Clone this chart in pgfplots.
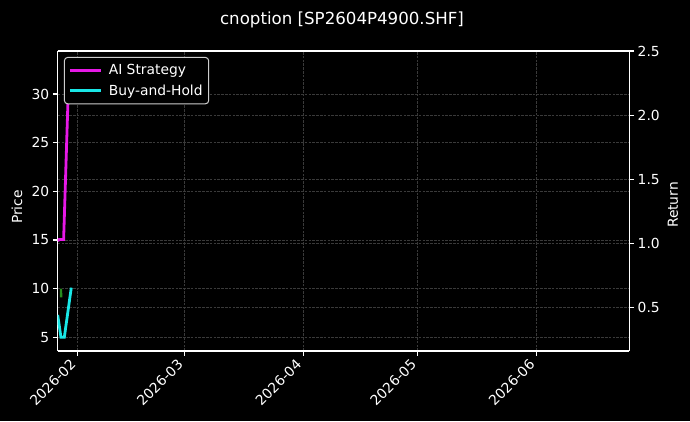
\documentclass[border=0pt]{standalone}
\usepackage{fontspec}
\setmainfont{DejaVu Sans}
\usepackage{pgfplots}
\pgfplotsset{compat=1.18}
\definecolor{aistrat}{RGB}{230,25,230}
\definecolor{bh}{RGB}{25,230,230}
\definecolor{pricegreen}{RGB}{40,140,30}
\definecolor{gridc}{RGB}{58,58,58}
\definecolor{legedge}{RGB}{205,205,205}
\pgfplotstableread{
x y
-5.15 14.90
-4.80 15.05
-3.60 15.05
-2.17 33.00
}\aidata
\pgfplotstableread{
x y
-5.15 7.30
-4.30 5.00
-3.42 5.00
-1.60 10.10
}\bhdata
\pgfplotstableread{
x y
-4.30 10.00
-4.25 9.10
}\pricedata
\newcommand{\tfont}{\fontsize{13.9}{16}\selectfont}
\begin{document}
\begin{tikzpicture}[x=1bp,y=1bp]
\fill[black] (0,0) rectangle (690,421);
\pgfplotsset{
  every axis/.append style={
    scale only axis, width=571.6bp, height=300bp,
    at={(57.7bp,70bp)}, anchor=south west,
    xmin=-5.15, xmax=144.3,
    axis line style={white, line width=1.1bp},
    tick style={white, line width=1.1bp},
    major tick length=4.9bp,
    tick align=outside,
    tick label style={font=\tfont, text=white},
    /pgf/number format/assume math mode=true,
    grid style={gridc, line width=0.7bp, dash pattern=on 2.6bp off 1.2bp},
  }
}
\begin{axis}[
  axis x line=none, axis y line*=right,
  xtick=\empty,
  ymin=0.161, ymax=2.5,
  ytick={0.5,1.0,1.5,2.0,2.5},
  yticklabel style={/pgf/number format/.cd, fixed, fixed zerofill, precision=1},
  ymajorgrids=true,
]
\end{axis}
\begin{axis}[
  axis x line=box, axis y line*=left,
  ymin=3.59, ymax=34.42,
  ytick={5,10,15,20,25,30},
  xtick={0,28,59,89,120},
  xticklabels={2026-02,2026-03,2026-04,2026-05,2026-06},
  xticklabel style={xshift=-8bp, rotate=45, anchor=north east, inner sep=1.5bp},
  xtick pos=bottom,
  ytick pos=left,
  grid=major,
  legend cell align=left,
  legend style={at={(rel axis cs:0.011,0.98)}, anchor=north west,
    fill=black, draw=legedge, line width=1bp, rounded corners=3bp,
    text=white, font=\tfont, row sep=4.5bp, column sep=4.5bp,
    inner xsep=4bp, inner ysep=5bp},
  legend image code/.code={\draw[#1] (0bp,0bp) -- (31bp,0bp);},
]
\addplot[pricegreen, line width=2.4bp, forget plot] table[x=x,y=y] {\pricedata};
\addplot[aistrat, line width=2.8bp] table[x=x,y=y] {\aidata};
\addlegendentry{AI Strategy}
\addplot[bh, line width=2.8bp] table[x=x,y=y] {\bhdata};
\addlegendentry{Buy-and-Hold}
\end{axis}
\node[text=white, font=\fontsize{16.7}{19}\selectfont] at (342,401) {cnoption [SP2604P4900.SHF]};
\node[text=white, font=\tfont, rotate=90] at (17,214) {Price};
\node[text=white, font=\tfont, rotate=90] at (673,216) {Return};
\end{tikzpicture}
\end{document}
